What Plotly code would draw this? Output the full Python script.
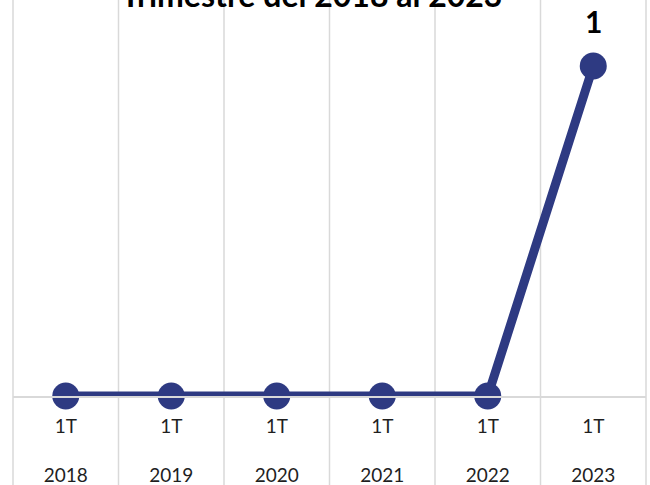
import plotly.graph_objects as go

years = ['2018', '2019', '2020', '2021', '2022', '2023']
quarters = ['1T', '1T', '1T', '1T', '1T', '1T']
values = [0, 0, 0, 0, 0, 1]
title = 'Trimestre del 2018 al 2023'

line_color = '#2E3A82'
grid_color = '#D9D9D9'
plot_h = 396   # plot area height in px
label_h = 89   # space under the axis for the two label rows

fig = go.Figure()

fig.add_trace(go.Scatter(
    x=years,
    y=values,
    mode='lines+markers',
    line={'color': line_color, 'width': 9},
    marker={'color': line_color, 'size': 27},
    cliponaxis=False,
    hoverinfo='skip'
))

# category separators running through the plot and the label area
n = len(years)
shapes = []
for i in range(n + 1):
    shapes.append({
        'type': 'line', 'xref': 'paper', 'yref': 'paper',
        'x0': i / n, 'x1': i / n, 'y0': -label_h / plot_h, 'y1': 1,
        'line': {'color': grid_color, 'width': 1.5},
        'layer': 'below'
    })

annotations = [
    {
        # title is cut by the top edge, as in the original
        'text': '<b>' + title + '</b>',
        'xref': 'paper', 'yref': 'paper',
        'x': 0.471, 'y': 1, 'xanchor': 'center', 'yanchor': 'bottom',
        'yshift': -16,
        'showarrow': False,
        'font': {'family': 'Lato', 'size': 32, 'color': '#000000'}
    },
    {
        # data label on the last point
        'text': '<b>' + str(values[-1]) + '</b>',
        'xref': 'x', 'yref': 'y',
        'x': n - 1, 'y': values[-1],
        'xanchor': 'center', 'yanchor': 'bottom',
        'yshift': 25,
        'showarrow': False,
        'font': {'family': 'Lato', 'size': 30, 'color': '#000000'}
    }
]

# two label rows: quarter near the axis, year below it
ticktext = [q + '<br><br>' + y for q, y in zip(quarters, years)]

fig.update_layout(
    width=650,
    height=485,
    margin={'l': 13, 'r': 4, 't': 0, 'b': label_h},
    plot_bgcolor='white',
    paper_bgcolor='white',
    showlegend=False,
    font={'family': 'Lato', 'size': 19, 'color': '#1F1F1F'},
    shapes=shapes,
    annotations=annotations,
    xaxis={
        'type': 'category',
        'tickvals': years,
        'ticktext': ticktext,
        'showgrid': False,
        'showline': True,
        'linecolor': grid_color,
        'linewidth': 1.5,
        'ticks': '',
        'ticklabelstandoff': 12,
        'automargin': False,
        'range': [-0.5, n - 0.5]
    },
    yaxis={
        'range': [0, 1.2],
        'showgrid': False,
        'zeroline': False,
        'showticklabels': False,
        'showline': False,
        'automargin': False
    }
)

# the page has the browser's default 8px body margin; drop it
fig.write_html('out.html', config={'displayModeBar': False},
               post_script="document.body.style.margin='0';")
